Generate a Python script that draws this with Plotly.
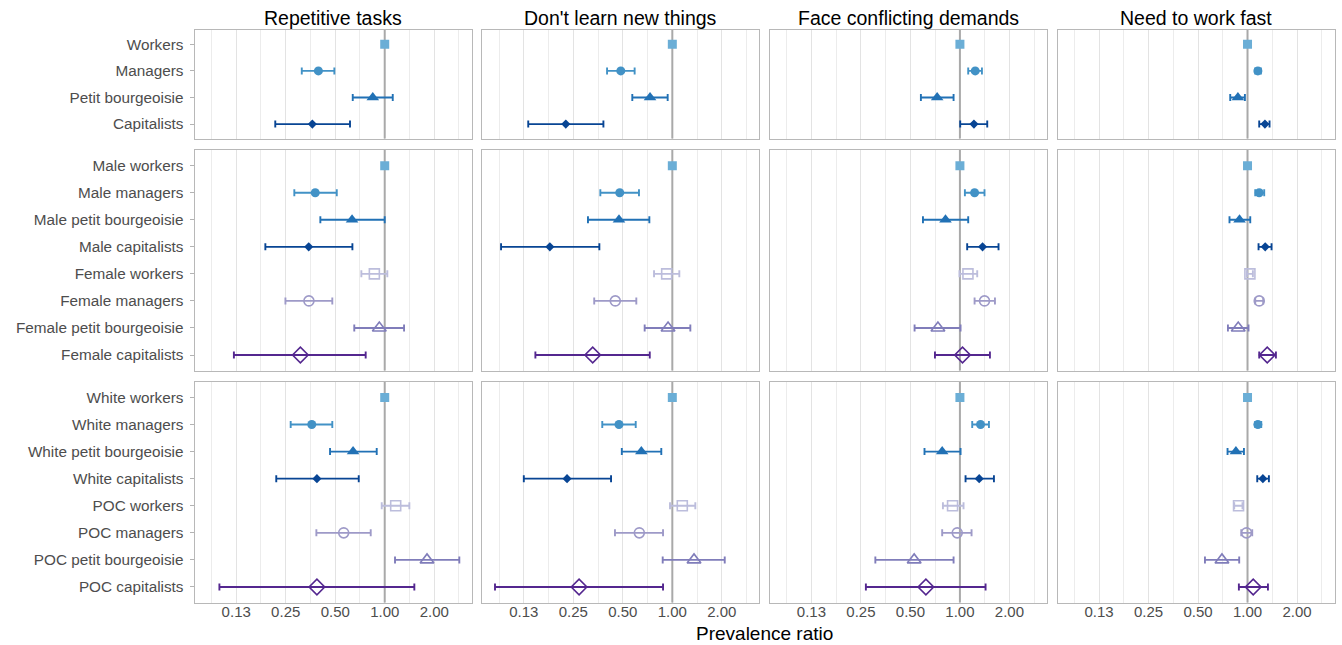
import math
import plotly.graph_objects as go

# ---------------- data ----------------
outcomes = ["Repetitive tasks", "Don't learn new things",
            "Face conflicting demands", "Need to work fast"]

class_labels = ["Workers", "Managers", "Petit bourgeoisie", "Capitalists"]
gender_labels = ["Male workers", "Male managers", "Male petit bourgeoisie",
                 "Male capitalists", "Female workers", "Female managers",
                 "Female petit bourgeoisie", "Female capitalists"]
race_labels = ["White workers", "White managers", "White petit bourgeoisie",
               "White capitalists", "POC workers", "POC managers",
               "POC petit bourgeoisie", "POC capitalists"]

# rows: outcome (same order as `outcomes`), columns: category
class_est = [
    [1.0, 0.395, 0.846, 0.363],
    [1.0, 0.486, 0.732, 0.225],
    [1.0, 1.239, 0.727, 1.217],
    [1.0, 1.156, 0.874, 1.276],
]
class_lo = [
    [None, 0.313, 0.639, 0.216],
    [None, 0.401, 0.571, 0.133],
    [None, 1.123, 0.579, 1.004],
    [None, 1.114, 0.785, 1.178],
]
class_hi = [
    [None, 0.494, 1.119, 0.615],
    [None, 0.590, 0.937, 0.381],
    [None, 1.361, 0.915, 1.466],
    [None, 1.206, 0.964, 1.361],
]

gender_est = [
    [1.0, 0.378, 0.633, 0.345, 0.865, 0.346, 0.927, 0.307],
    [1.0, 0.479, 0.474, 0.180, 0.924, 0.450, 0.942, 0.328],
    [1.0, 1.228, 0.817, 1.373, 1.119, 1.411, 0.735, 1.037],
    [1.0, 1.178, 0.894, 1.281, 1.034, 1.178, 0.878, 1.318],
]
gender_lo = [
    [None, 0.282, 0.406, 0.188, 0.721, 0.249, 0.653, 0.121],
    [None, 0.365, 0.307, 0.0909, 0.774, 0.335, 0.679, 0.147],
    [None, 1.072, 0.596, 1.107, 0.994, 1.228, 0.530, 0.705],
    [None, 1.114, 0.777, 1.167, 0.991, 1.114, 0.760, 1.178],
]
gender_hi = [
    [None, 0.511, 1.000, 0.636, 1.037, 0.480, 1.311, 0.766],
    [None, 0.627, 0.725, 0.360, 1.103, 0.604, 1.287, 0.729],
    [None, 1.411, 1.123, 1.717, 1.274, 1.633, 1.009, 1.522],
    [None, 1.263, 1.039, 1.400, 1.078, 1.246, 1.014, 1.488],
]

race_est = [
    [1.0, 0.360, 0.642, 0.387, 1.166, 0.563, 1.808, 0.387],
    [1.0, 0.474, 0.648, 0.229, 1.150, 0.630, 1.355, 0.271],
    [1.0, 1.335, 0.780, 1.310, 0.902, 0.963, 0.527, 0.621],
    [1.0, 1.156, 0.850, 1.240, 0.882, 0.986, 0.699, 1.083],
]
race_lo = [
    [None, 0.268, 0.465, 0.219, 0.959, 0.384, 1.155, 0.0988],
    [None, 0.375, 0.493, 0.125, 0.968, 0.448, 0.874, 0.0835],
    [None, 1.188, 0.609, 1.082, 0.788, 0.780, 0.306, 0.268],
    [None, 1.114, 0.756, 1.146, 0.830, 0.916, 0.551, 0.886],
]
race_hi = [
    [None, 0.480, 0.894, 0.695, 1.412, 0.822, 2.842, 1.514],
    [None, 0.599, 0.857, 0.424, 1.380, 0.878, 2.083, 0.878],
    [None, 1.501, 1.009, 1.610, 1.052, 1.177, 0.915, 1.432],
    [None, 1.212, 0.951, 1.349, 0.932, 1.068, 0.890, 1.331],
]

x_tick_vals = [0.125, 0.25, 0.5, 1.0, 2.0]
x_tick_text = ["0.13", "0.25", "0.50", "1.00", "2.00"]
reference_ratio = 1.0

# ---------------- styling ----------------
colors = ["#6baed6", "#4292c6", "#2171b5", "#084594",
          "#bcbddc", "#9e9ac8", "#807dba", "#54278f"]
symbols = ["square", "circle", "triangle-up", "diamond",
           "square-open", "circle-open", "triangle-up-open", "diamond-open"]
sizes = [9, 9, 11, 7, 10, 10, 12, 12]

FONT = "Liberation Sans, Arial, sans-serif"
W, H = 1342, 645
col_left = [194.7 + c * 287.6 for c in range(4)]
col_w = 277.0
row_top = [29.7, 150.0, 381.7]
row_bot = [138.7, 370.7, 602.7]
row_pad = [0.55, 0.58, 0.58]

groups = [
    (class_labels, class_est, class_lo, class_hi),
    (gender_labels, gender_est, gender_lo, gender_hi),
    (race_labels, race_est, race_lo, race_hi),
]

minor_vals = [t / math.sqrt(2) for t in x_tick_vals] + [x_tick_vals[-1] * math.sqrt(2)]
x_range = [math.log10(0.0699), math.log10(3.38)]

fig = go.Figure()
layout = dict(
    width=W, height=H,
    margin=dict(l=0, r=0, t=0, b=0),
    paper_bgcolor="white", plot_bgcolor="white",
    showlegend=False,
    font=dict(family=FONT),
)
annotations = []

for r, (labels, est, lo, hi) in enumerate(groups):
    n = len(labels)
    y_rng = [n - 1 + row_pad[r], -row_pad[r]]
    for c in range(4):
        k = r * 4 + c + 1
        xa = "x" if k == 1 else f"x{k}"
        ya = "y" if k == 1 else f"y{k}"
        xkey = "xaxis" if k == 1 else f"xaxis{k}"
        ykey = "yaxis" if k == 1 else f"yaxis{k}"

        # reference line at ratio = 1 (drawn first so it sits under the points)
        fig.add_trace(go.Scatter(
            x=[reference_ratio, reference_ratio], y=y_rng, mode="lines",
            xaxis=xa, yaxis=ya, line=dict(color="#a9a9a9", width=2),
            hoverinfo="skip", cliponaxis=False))

        for i in range(n):
            e = est[c][i]
            l = lo[c][i]
            h = hi[c][i]
            tr = dict(
                x=[e], y=[i], mode="markers", xaxis=xa, yaxis=ya,
                marker=dict(symbol=symbols[i], color=colors[i], size=sizes[i],
                            line=dict(color=colors[i],
                                      width=1.6 if i >= 4 else 0)),
                hoverinfo="skip",
            )
            if l is not None and h is not None:
                tr["error_x"] = dict(type="data", symmetric=False,
                                     array=[h - e], arrayminus=[e - l],
                                     color=colors[i], thickness=1.9, width=3.5)
            fig.add_trace(go.Scatter(**tr))

        layout[xkey] = dict(
            domain=[col_left[c] / W, (col_left[c] + col_w) / W],
            anchor=ya, type="log", range=x_range,
            tickvals=x_tick_vals, ticktext=x_tick_text,
            showticklabels=(r == 2),
            ticks="", ticklabelstandoff=-5,
            tickfont=dict(size=15, color="#4d4d4d", family=FONT),
            showgrid=True, gridcolor="#e3e3e3", gridwidth=1,
            minor=dict(tickvals=minor_vals, showgrid=True,
                       gridcolor="#ececec", gridwidth=0.8),
            showline=True, mirror=True, linecolor="#b8b8b8", linewidth=1.3,
            zeroline=False, fixedrange=True,
        )
        layout[ykey] = dict(
            domain=[1 - row_bot[r] / H, 1 - row_top[r] / H],
            anchor=xa, type="linear",
            range=y_rng,
            tickvals=list(range(n)), ticktext=labels,
            showticklabels=(c == 0),
            ticks="outside" if c == 0 else "", ticklen=4, tickcolor="#b3b3b3",
            ticklabelstandoff=3,
            tickfont=dict(size=15.3, color="#4d4d4d", family=FONT),
            showgrid=False, zeroline=False,
            showline=True, mirror=True, linecolor="#b8b8b8", linewidth=1.3,
            fixedrange=True,
        )

for c, name in enumerate(outcomes):
    annotations.append(dict(
        text=name, x=(col_left[c] + col_w / 2) / W, y=1 - 18 / H,
        xref="paper", yref="paper", xanchor="center", yanchor="middle",
        showarrow=False, font=dict(size=19.5, color="black", family=FONT)))

annotations.append(dict(
    text="Prevalence ratio", x=(col_left[0] + (col_left[3] + col_w)) / 2 / W,
    y=0, xref="paper", yref="paper", xanchor="center",
    yanchor="bottom", showarrow=False, yshift=0, borderpad=0,
    font=dict(size=19, color="black", family=FONT)))

layout["annotations"] = annotations
fig.update_layout(**layout)
fig.write_html("out.html")
